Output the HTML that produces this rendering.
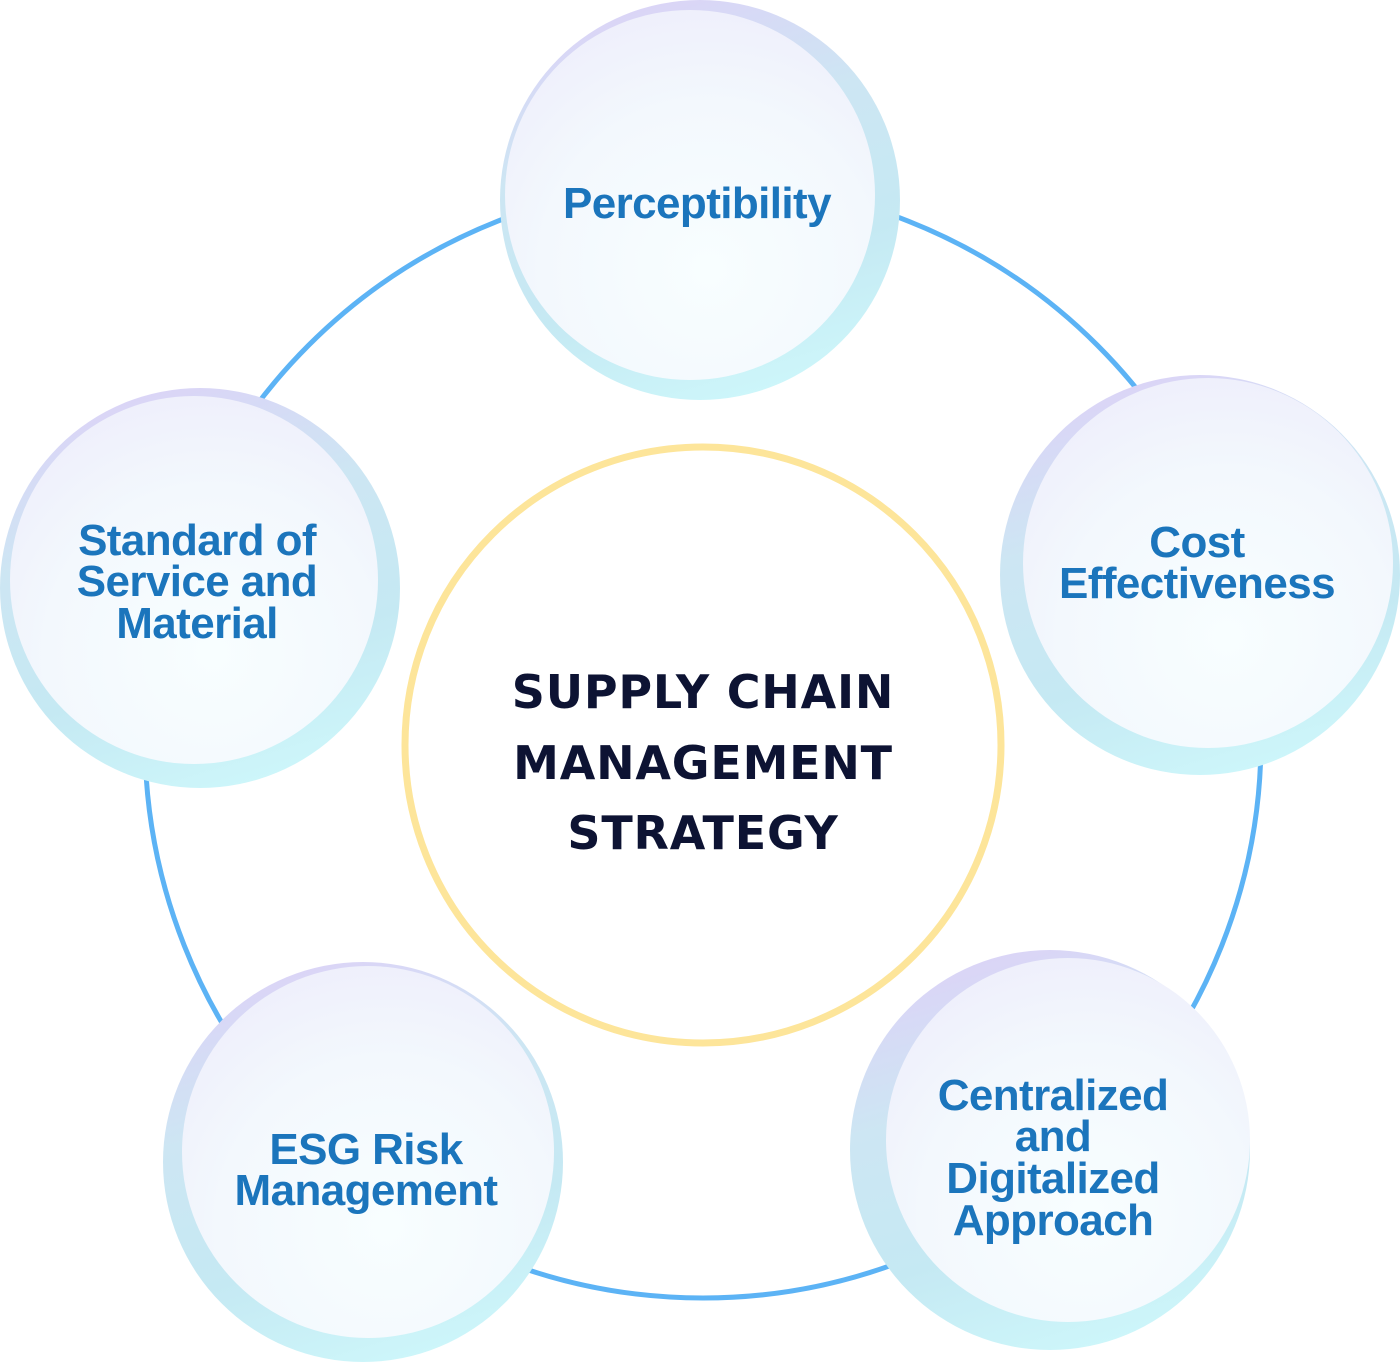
<!DOCTYPE html>
<html><head><meta charset="utf-8"><style>
html,body{margin:0;padding:0;background:#fff;}
svg{display:block;}
.t{font-family:"Liberation Sans",Arial,sans-serif;font-weight:bold;font-size:44px;fill:#1b75bc;text-anchor:middle;letter-spacing:-0.6px;}
.c{font-family:"DejaVu Sans","Liberation Sans",sans-serif;font-weight:bold;font-size:46px;fill:#0d1333;text-anchor:middle;letter-spacing:0.8px;}
</style></head><body>
<svg width="1400" height="1362" viewBox="0 0 1400 1362" xmlns="http://www.w3.org/2000/svg">
<defs>
<linearGradient id="ring" x1="0.3" y1="0" x2="0.6" y2="1">
<stop offset="0" stop-color="#dcd3f7"/>
<stop offset="0.35" stop-color="#cde6f3"/>
<stop offset="0.7" stop-color="#c5e9f3"/>
<stop offset="1" stop-color="#cdf6fa"/>
</linearGradient>
<radialGradient id="inner" cx="0.55" cy="0.7" r="0.75">
<stop offset="0" stop-color="#f8feff"/>
<stop offset="0.6" stop-color="#f3f8fd"/>
<stop offset="1" stop-color="#eeeefb"/>
</radialGradient>
</defs>
<circle cx="703" cy="740" r="558" fill="none" stroke="#5cb3f5" stroke-width="5"/>
<circle cx="703" cy="745" r="298" fill="#fff" stroke="#fde59a" stroke-width="7"/>
<text class="c" x="703" y="708">SUPPLY CHAIN</text>
<text class="c" x="703" y="779">MANAGEMENT</text>
<text class="c" x="703" y="849">STRATEGY</text>

<circle cx="700" cy="200" r="200" fill="url(#ring)"/>
<circle cx="690" cy="195" r="185" fill="url(#inner)"/>
<text class="t" x="697" y="218">Perceptibility</text>

<circle cx="1200" cy="575" r="200" fill="url(#ring)"/>
<circle cx="1208" cy="563" r="185" fill="url(#inner)"/>
<text class="t" x="1197" y="557">Cost</text>
<text class="t" x="1197" y="598">Effectiveness</text>

<circle cx="200" cy="588" r="200" fill="url(#ring)"/>
<circle cx="194" cy="580" r="184" fill="url(#inner)"/>
<text class="t" x="197" y="555">Standard of</text>
<text class="t" x="197" y="596">Service and</text>
<text class="t" x="197" y="638">Material</text>

<circle cx="363" cy="1162" r="200" fill="url(#ring)"/>
<circle cx="368" cy="1152" r="186" fill="url(#inner)"/>
<text class="t" x="366" y="1164">ESG Risk</text>
<text class="t" x="366" y="1205">Management</text>

<circle cx="1050" cy="1150" r="200" fill="url(#ring)"/>
<circle cx="1068" cy="1140" r="182" fill="url(#inner)"/>
<text class="t" x="1053" y="1110">Centralized</text>
<text class="t" x="1053" y="1151">and</text>
<text class="t" x="1053" y="1193">Digitalized</text>
<text class="t" x="1053" y="1235">Approach</text>
</svg>
</body></html>
